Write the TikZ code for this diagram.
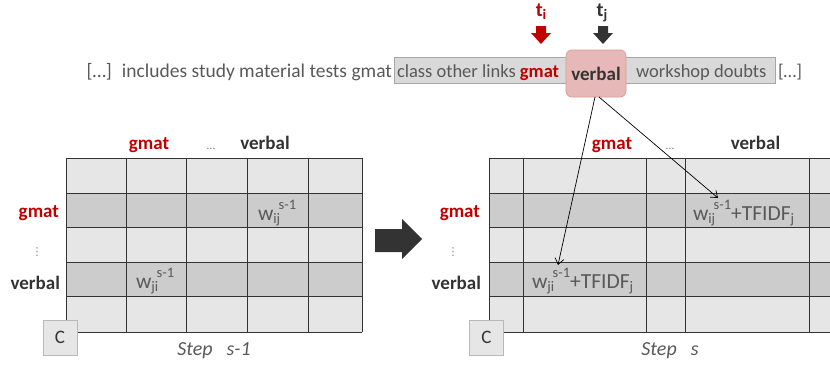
\documentclass[tikz,border=0pt]{standalone}
\usepackage{fontspec}
\setmainfont{Carlito}
\newfontfamily\dvs{DejaVu Sans}
\usetikzlibrary{arrows.meta}
\definecolor{txt}{HTML}{595959}
\definecolor{dk}{HTML}{333333}
\definecolor{rd}{HTML}{C00000}
\definecolor{lg}{HTML}{E6E6E6}
\definecolor{mg}{HTML}{CCCCCC}
\definecolor{gb}{HTML}{D9D9D9}
\definecolor{gbb}{HTML}{A6A6A6}
\definecolor{pk}{HTML}{E6B9B8}
\definecolor{pkb}{HTML}{DC9A98}
\newcommand\smallsc[1]{{\fontsize{14.5}{15}\selectfont #1}}
\newcommand\subsc[1]{\raisebox{-3pt}{\smallsc{#1}}}
\newcommand\wsup[1]{w\subsc{#1}\hspace{-1.5pt}\raisebox{11pt}{\smallsc{s-1}}}
\begin{document}
\begin{tikzpicture}[x=1pt,y=-1pt,
  font=\fontsize{19}{22}\selectfont,
  every node/.style={inner sep=0pt, outer sep=0pt},
  plain/.style={text=txt, font=\fontsize{18.5}{22}\selectfont},
  hdr/.style={font=\fontsize{19}{22}\selectfont\bfseries, text=dk, anchor=base},
  hdrr/.style={hdr, text=rd},
  lbl/.style={font=\fontsize{19}{22}\selectfont\bfseries, text=dk, anchor=base east},
  lblr/.style={lbl, text=rd},
  vdots/.style={font=\dvs\fontsize{11}{12}\selectfont, text=gray},
  hdots/.style={font=\fontsize{12}{14}\selectfont, text=gray, anchor=base},
  grid/.style={draw=dk, line width=0.9pt},
  cbox/.style={draw=gray!55, fill=lg, line width=0.8pt, minimum width=34pt, minimum height=35pt, text=dk, font=\fontsize{19}{22}\selectfont},
  celltxt/.style={text=txt, anchor=base west, font=\fontsize{21.5}{22}\selectfont},
  steptxt/.style={font=\fontsize{20}{22}\selectfont\itshape, text=txt},
  conn/.style={draw=black, line width=0.7pt, -{Straight Barb[length=6pt,width=9pt]}},
]
\useasboundingbox (0,0) rectangle (830,367);
\clip (0,0) rectangle (830,367);

% ---------- top sentence ----------
\node[plain, anchor=base east, font=\fontsize{19.5}{22}\selectfont] (s1) at (392,77) {[…]\hspace{10pt}includes study material tests gmat};
\node[draw=gbb, fill=gb, line width=0.8pt, minimum width=381pt, minimum height=26pt] (gbox) at (584.5,70) {};
\node[plain, anchor=base west] (s2) at (397,77) {class other links \textcolor{rd}{\textbf{gmat}}};
\node[draw=pkb, fill=pk, line width=0.8pt, rounded corners=6pt, minimum width=60pt, minimum height=47pt,
      font=\fontsize{19}{22}\selectfont\bfseries, text=dk] (vb) at (596,73.5) {verbal};
\node[plain, anchor=base west] (s3) at (636,77) {workshop doubts};
\node[plain, anchor=base west] (s4) at (778,77) {[…]};

% ---------- t_i / t_j ----------
\node[text=rd, font=\fontsize{20}{22}\selectfont\bfseries, anchor=base] (ti) at (541,16) {t\subsc{i}};
\node[text=dk, font=\fontsize{20}{22}\selectfont\bfseries, anchor=base] (tj) at (602,16) {t\subsc{j}};
\fill[rd] (536,26) -- (546,26) -- (546,33) -- (551,33) -- (541,44) -- (531,33) -- (536,33) -- cycle;
\fill[dk] (598,26) -- (608,26) -- (608,33) -- (613,33) -- (603,44) -- (593,33) -- (598,33) -- cycle;

% ---------- left matrix ----------
\fill[lg] (66,158) rectangle (362,332);
\fill[mg] (66,193) rectangle (362,227);
\fill[mg] (66,262) rectangle (362,296);
\foreach \x in {66,126,186,247,308,362} \draw[grid] (\x,158) -- (\x,332);
\foreach \y in {158,193,227,262,296,332} \draw[grid] (66,\y) -- (362,\y);

\node[hdrr] (lh1) at (149,149) {gmat};
\node[hdots] (lh2) at (211,149) {…};
\node[hdr] (lh3) at (265,149) {verbal};
\node[lblr] (lr1) at (59,217) {gmat};
\node[vdots] (lr2) at (37,252) {⋮};
\node[lbl] (lr3) at (60,289) {verbal};
\node[celltxt] (wij1) at (258,220) {\wsup{ij}};
\node[celltxt] (wji1) at (136,288) {\wsup{ji}};
\node[cbox] (c1) at (60,337.5) {C};
\node[steptxt] (st1) at (214,351) {Step\hspace{14pt}s-1};

% ---------- big arrow ----------
\fill[dk] (375,229) -- (402,229) -- (402,219) -- (422,239) -- (402,259) -- (402,252) -- (375,252) -- cycle;

% ---------- right matrix ----------
\fill[lg] (489,158) rectangle (860,332);
\fill[mg] (489,193) rectangle (860,227);
\fill[mg] (489,262) rectangle (860,296);
\foreach \x in {489,523,646,685,809} \draw[grid] (\x,158) -- (\x,332);
\foreach \y in {158,193,227,262,296,332} \draw[grid] (489,\y) -- (860,\y);

\node[hdrr] (rh1) at (612,149) {gmat};
\node[hdots] (rh2) at (670,149) {…};
\node[hdr] (rh3) at (755.5,149) {verbal};
\node[lblr] (rr1) at (480,217) {gmat};
\node[vdots] (rr2) at (453,252) {⋮};
\node[lbl] (rr3) at (481,289) {verbal};
\node[celltxt] (wij2) at (693,220) {\wsup{ij}+TFIDF\subsc{j}};
\node[celltxt] (wji2) at (532,288) {\wsup{ji}+TFIDF\subsc{j}};
\node[cbox] (c2) at (486.5,337.5) {C};
\node[steptxt] (st2) at (670,351) {Step\hspace{14pt}s};

% ---------- connectors ----------
\coordinate (tji) at (558,265);
\coordinate (tij) at (718,198);
\draw[conn] ([xshift=-1pt]vb.south) -- (tji);
\draw[conn] ([xshift=3pt]vb.south) -- (tij);
\end{tikzpicture}
\end{document}
